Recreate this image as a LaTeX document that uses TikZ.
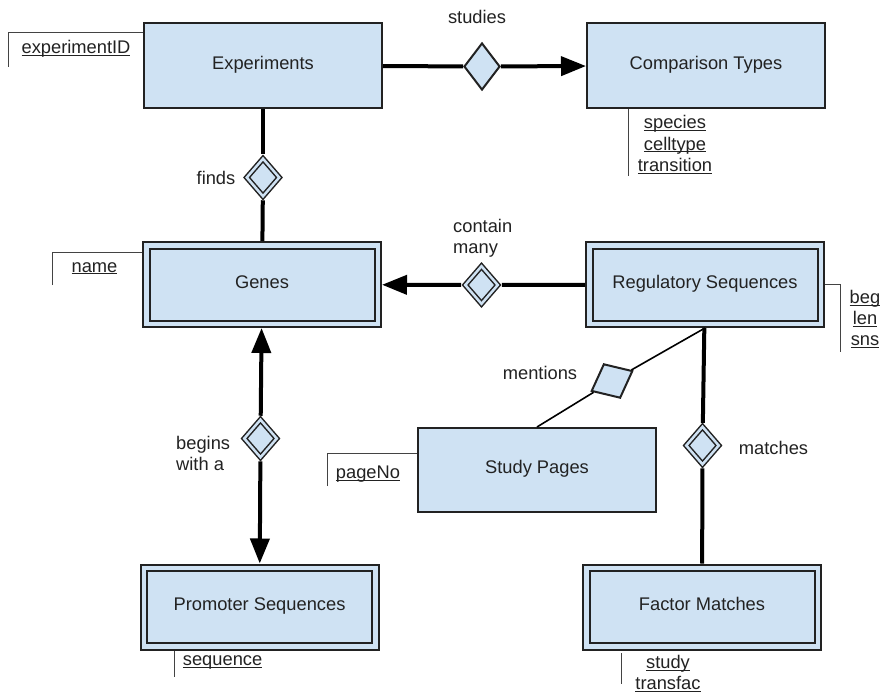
\documentclass[tikz,border=0pt]{standalone}
\usepackage{fontspec}
\setmainfont{Liberation Sans}
\usetikzlibrary{shapes.geometric,arrows.meta}
\definecolor{boxfill}{HTML}{CFE2F3}
\definecolor{ink}{HTML}{222222}
\newcommand\attru[1]{\underline{\raisebox{0pt}[\height][0pt]{#1}}}
\begin{document}
\begin{tikzpicture}[x=1pt,y=-1pt,
  every node/.style={font=\fontsize{18.3}{21}\selectfont, text=ink},
  entity/.style={rectangle, draw=ink, line width=2pt, fill=boxfill, minimum width=238pt, minimum height=85pt, inner sep=0pt, text height=0.72em, text depth=0pt},
  weak/.style={entity, double=boxfill, double distance=4.5pt, minimum width=231.5pt, minimum height=78.5pt, outer sep=4.25pt},
  rel/.style={diamond, draw=ink, line width=2pt, fill=boxfill, minimum width=36pt, minimum height=47pt, inner sep=0pt},
  wrel/.style={diamond, draw=ink, line width=1.5pt, double=boxfill, double distance=2.5pt, fill=boxfill, minimum width=35pt, minimum height=40pt, inner sep=0pt, outer sep=3pt},
  conn/.style={line width=4pt, draw=black},
  thinconn/.style={line width=1.6pt, draw=black},
  tipend/.style={-{Triangle[length=25pt,width=19pt]}},
  attr/.style={line width=1pt, draw=ink!85},
  lbl/.style={inner sep=0pt, text height=0.72em, text depth=0pt},
  mlbl/.style={inner sep=0pt},
]
\path[use as bounding box, fill=white] (0,0) rectangle (883,695);

% entities
\node[entity] (exp) at (263,65.5) {Experiments};
\node[entity] (cmp) at (706,65.5) {Comparison Types};
\node[weak] (genes) at (262,284.5) {Genes};
\node[weak] (reg) at (705,284.5) {Regulatory Sequences};
\node[entity, minimum height=84pt] (study) at (537,470) {Study Pages};
\node[weak] (prom) at (259.5,607) {Promoter Sequences};
\node[weak] (fac) at (702,607) {Factor Matches};

% relationships
\node[rel] (studies) at (482,66.5) {};
\node[wrel] (finds) at (263,177.5) {};
\node[wrel] (contain) at (481.5,285) {};
\node[wrel] (begins) at (260.5,438.5) {};
\node[wrel] (matches) at (702.5,445.5) {};
\node[rel, minimum width=46pt, minimum height=38pt, rotate=26] (mentions) at (612,381) {};

% connectors
\draw[conn] (exp) -- (studies);
\draw[conn, tipend] (studies) -- (cmp);
\draw[conn] (exp) -- (finds);
\draw[conn] (finds) -- (genes);
\draw[conn] (reg) -- (contain);
\draw[conn, tipend] (contain) -- (genes);
\draw[conn, tipend] (begins) -- (genes);
\draw[conn, tipend] (begins) -- (prom);
\draw[conn] (reg) -- (matches);
\draw[conn] (matches) -- (fac);
\draw[thinconn] (reg.south) -- (mentions);
\draw[thinconn] (mentions) -- (study.north);

% relationship labels
\node[lbl] (lstudies) at (477,19.5) {studies};
\node[lbl] (lfinds) at (216,180.7) {finds};
\node[mlbl, anchor=west, align=left] (lcontain) at (453,238) {contain\\many};
\node[mlbl, anchor=west, align=left] (lbegins) at (176,453) {begins\\with a};
\node[lbl] (lmentions) at (540,375.7) {mentions};
\node[lbl] (lmatches) at (773.5,450.7) {matches};

% attributes
\draw[attr] (8,67) |- (exp.west |- 0,33);
\node[lbl] (aexp) at (76,50) {\attru{experimentID}};
\draw[attr] (628,109) -- (628,176);
\node[mlbl, align=center, font=\fontsize{18.3}{21.7}\selectfont] (acmp) at (675,144.5) {\attru{species}\\\attru{celltype}\\\attru{transition}};
\draw[attr] (52,285) |- (142,252);
\node[lbl] (agenes) at (94.5,268.4) {\attru{name}};
\draw[attr] (825,284) -| (840,352);
\node[mlbl, align=center] (areg) at (865,319) {\attru{beg}\\\attru{len}\\\attru{sns}};
\draw[attr] (327,486) |- (417,453);
\node[lbl] (astudy) at (368,475) {\attru{pageNo}};
\draw[attr] (174,651) -- (174,677);
\node[lbl] (aprom) at (222.6,661.7) {\attru{sequence}};
\draw[attr] (621,653) -- (621,684);
\node[mlbl, align=center] (afac) at (668,673.5) {\attru{study}\\\attru{transfac}};
\end{tikzpicture}
\end{document}
